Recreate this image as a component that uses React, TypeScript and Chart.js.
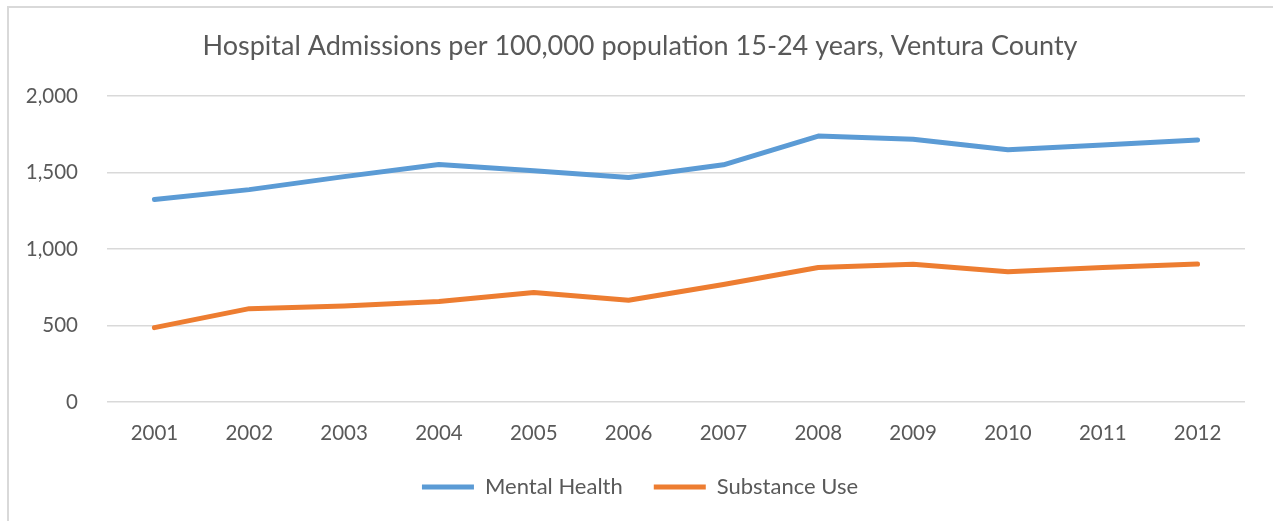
import React, { useEffect, useRef } from "react";
import { Chart, registerables } from "chart.js";

Chart.register(...registerables);

const years = ["2001", "2002", "2003", "2004", "2005", "2006", "2007", "2008", "2009", "2010", "2011", "2012"];
const mentalHealth = [1323, 1388, 1473, 1552, 1512, 1467, 1550, 1738, 1717, 1649, 1679, 1713];
const substanceUse = [486, 610, 627, 657, 716, 665, 768, 879, 900, 852, 879, 902];
const yTicks = [0, 500, 1000, 1500, 2000];

const TITLE = "Hospital Admissions per 100,000 population 15-24 years, Ventura County";
const TEXT = "#595959";
const GRID = "#d9d9d9";
const BLUE = "#5b9bd5";
const ORANGE = "#ed7d31";
const FONT = "Lato, 'Open Sans', sans-serif";

// Centre the title and legend on the framed panel rather than on the plot area.
const centerOnPanel = {
  id: "centerOnPanel",
  afterLayout(chart: any) {
    const inset = 35;
    if (chart.titleBlock) chart.titleBlock.left = inset;
    if (chart.legend) chart.legend.left = inset;
  },
};

export default function App() {
  const canvasRef = useRef<HTMLCanvasElement | null>(null);

  useEffect(() => {
    document.body.style.margin = "0";
    const canvas = canvasRef.current;
    if (!canvas) return;
    const chart = new Chart(canvas, {
      type: "line",
      data: {
        labels: years,
        datasets: [
          {
            label: "Mental Health",
            data: mentalHealth,
            borderColor: BLUE,
            backgroundColor: BLUE,
            borderWidth: 5,
            borderCapStyle: "round",
            borderJoinStyle: "round",
            pointRadius: 0,
            tension: 0,
          },
          {
            label: "Substance Use",
            data: substanceUse,
            borderColor: ORANGE,
            backgroundColor: ORANGE,
            borderWidth: 5,
            borderCapStyle: "round",
            borderJoinStyle: "round",
            pointRadius: 0,
            tension: 0,
          },
        ],
      },
      plugins: [centerOnPanel],
      options: {
        animation: false,
        responsive: false,
        maintainAspectRatio: false,
        layout: { padding: { left: 0, right: 28, top: 0, bottom: 13 } },
        plugins: {
          tooltip: { enabled: false },
          title: {
            display: true,
            text: TITLE,
            color: TEXT,
            font: { family: FONT, size: 27, weight: "normal", lineHeight: 1.2 },
            padding: { top: 29.8, bottom: 33.8 },
          },
          legend: {
            display: true,
            position: "bottom",
            labels: {
              usePointStyle: true,
              pointStyle: "line",
              pointStyleWidth: 52,
              boxHeight: 20,
              padding: 31,
              color: TEXT,
              font: { family: FONT, size: 22 },
            },
          },
        },
        scales: {
          x: {
            offset: true,
            grid: { display: false, drawTicks: false },
            border: { display: false },
            ticks: {
              color: TEXT,
              font: { family: FONT, size: 20.5, lineHeight: 1.2 },
              padding: 19,
              maxRotation: 0,
            },
            afterFit: (scale: any) => {
              scale.height = 43;
            },
          },
          y: {
            min: 0,
            max: 2000,
            afterBuildTicks: (scale: any) => {
              scale.ticks = yTicks.map((v) => ({ value: v }));
            },
            grid: { color: GRID, lineWidth: 1.4, drawTicks: false },
            border: { display: false },
            ticks: {
              color: TEXT,
              font: { family: FONT, size: 20.5 },
              padding: 29,
              callback: (v: any) => Number(v).toLocaleString("en-US"),
            },
            afterFit: (scale: any) => {
              scale.width = 107;
            },
          },
        },
      },
    });
    return () => chart.destroy();
  }, []);

  return (
    <div style={{ position: "fixed", left: 0, top: 0, width: 1273, height: 521, background: "#fff" }}>
      <canvas ref={canvasRef} width={1273} height={521} style={{ position: "absolute", left: 0, top: 0 }} />
      <div
        style={{
          position: "absolute",
          left: 7,
          top: 6,
          right: 0,
          bottom: 0,
          borderLeft: `2px solid ${GRID}`,
          borderTop: `2px solid ${GRID}`,
          pointerEvents: "none",
        }}
      />
    </div>
  );
}
